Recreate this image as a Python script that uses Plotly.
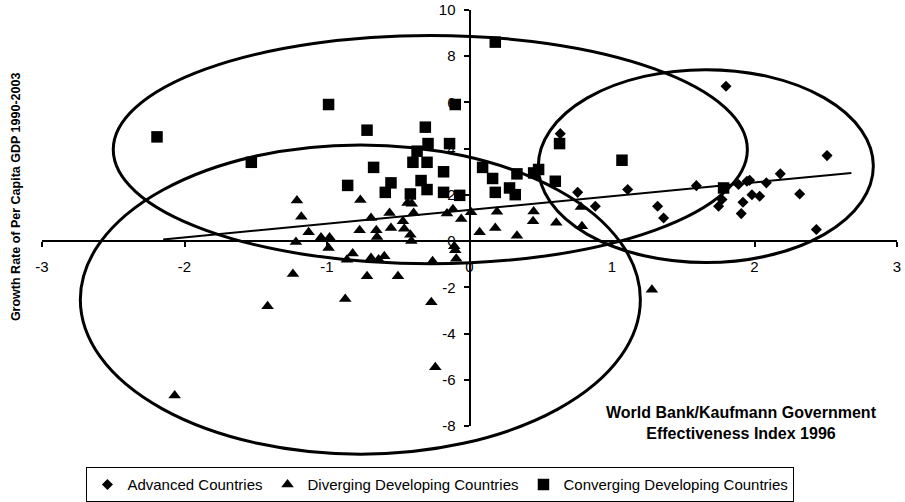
import plotly.graph_objects as go

# ---------------- data ----------------
adv_x = [0.637, 0.759, 0.883, 1.11, 1.32, 1.362, 1.592, 1.80, 1.748, 1.772, 1.888,
         1.907, 1.919, 1.947, 1.966, 1.982, 2.036, 2.083, 2.181, 2.317, 2.434, 2.509]
adv_y = [4.65, 2.11, 1.51, 2.23, 1.51, 1.00, 2.40, 6.70, 1.51, 1.80, 2.45,
         1.19, 1.68, 2.59, 2.63, 2.01, 1.94, 2.52, 2.91, 2.04, 0.50, 3.70]

div_x = [-2.069, -1.417, -1.239, -1.218, -1.211, -1.18, -1.129, -1.042, -0.982, -0.989,
         -0.872, -0.86, -0.82, -0.766, -0.771, -0.719, -0.691, -0.691, -0.654, -0.649,
         -0.638, -0.598, -0.561, -0.551, -0.502, -0.467, -0.458, -0.435, -0.405, -0.392,
         -0.415, -0.408, -0.259, -0.268, -0.24, -0.158, -0.116, -0.058, -0.107, -0.10,
         -0.093, 0.011, 0.071, 0.181, 0.193, 0.333, 0.45, 0.446, 0.609, 0.782, 0.789, 1.28]
div_y = [-6.68, -2.82, -1.42, -0.04, 1.76, 1.05, 0.38, 0.16, 0.16, -0.30,
         -2.51, -0.81, -0.54, 1.78, 0.47, -1.52, 1.00, -0.73, 0.47, 0.18,
         -0.80, -0.66, 1.22, 0.57, -1.52, 0.86, 0.53, 1.65, 1.62, 1.22,
         0.28, 0.00, -0.87, -2.65, -5.46, 1.19, 1.38, 0.96, -0.22, -0.40,
         -0.76, 1.25, 0.38, 0.57, 1.27, 0.23, 1.28, 0.86, 0.79, 1.48, 0.64, -2.10]

conv_x = [-2.193, -1.531, -0.989, -0.855, -0.719, -0.673, -0.591, -0.551, -0.415, -0.397,
          -0.368, -0.34, -0.31, -0.298, -0.298, -0.291, -0.182, -0.182, -0.14, -0.10,
          -0.069, 0.092, 0.162, 0.181, 0.181, 0.281, 0.321, 0.333, 0.45, 0.485,
          0.602, 0.632, 1.07, 1.783]
conv_y = [4.51, 3.41, 5.91, 2.41, 4.80, 3.19, 2.11, 2.52, 2.04, 3.41,
          3.89, 2.62, 4.93, 3.41, 2.23, 4.22, 3.00, 2.11, 4.22, 5.91,
          1.98, 3.19, 2.71, 8.61, 2.11, 2.30, 2.01, 2.91, 2.95, 3.10,
          2.59, 4.22, 3.50, 2.30]

trend_x = [-2.15, 2.68]
trend_y = [0.07, 2.95]

x_ticks = [-3, -2, -1, 0, 1, 2, 3]
y_ticks = [-8, -6, -4, -2, 0, 2, 4, 6, 8, 10]

# ellipses drawn around the three groups (data units: x0, x1, y0, y1)
ellipse_conv = (-2.50, 1.95, -0.98, 8.90)
ellipse_adv = (0.483, 2.834, -0.93, 7.42)
ellipse_div = (-2.731, 1.199, -9.22, 4.16)

X_RANGE = [-3, 3]
Y_RANGE = [-8, 10]

FONT = "Arial, Liberation Sans, sans-serif"

fig = go.Figure()

fig.add_trace(go.Scatter(x=adv_x, y=adv_y, mode="markers", name="Advanced Countries",
                         marker=dict(symbol="diamond", size=8.5, color="black")))
fig.add_trace(go.Scatter(x=div_x, y=div_y, mode="markers", name="Diverging Developing Countries",
                         marker=dict(symbol="triangle-up", size=11, color="black")))
fig.add_trace(go.Scatter(x=conv_x, y=conv_y, mode="markers", name="Converging Developing Countries",
                         marker=dict(symbol="square", size=11.5, color="black")))
fig.add_trace(go.Scatter(x=trend_x, y=trend_y, mode="lines", showlegend=False,
                         line=dict(color="black", width=2), hoverinfo="skip"))


def to_paper_x(v):
    return (v - X_RANGE[0]) / (X_RANGE[1] - X_RANGE[0])


def to_paper_y(v):
    return (v - Y_RANGE[0]) / (Y_RANGE[1] - Y_RANGE[0])


for e in (ellipse_conv, ellipse_adv, ellipse_div):
    fig.add_shape(type="circle", xref="paper", yref="paper",
                  x0=to_paper_x(e[0]), x1=to_paper_x(e[1]),
                  y0=to_paper_y(e[2]), y1=to_paper_y(e[3]),
                  line=dict(color="black", width=3), layer="above")

zero_y_pos = to_paper_y(0)
zero_x_pos = to_paper_x(0)

fig.update_layout(
    width=905, height=502,
    margin=dict(l=42, r=8, t=10, b=76, autoexpand=False),
    paper_bgcolor="white", plot_bgcolor="white",
    font=dict(family=FONT, color="black", size=15),
    showlegend=True,
    legend=dict(orientation="h", x=0.466, xanchor="center", y=-0.141, yanchor="middle",
                bordercolor="black", borderwidth=1, bgcolor="white",
                font=dict(family=FONT, size=15, color="black"),
                itemsizing="trace", itemwidth=30, tracegroupgap=0),
    xaxis=dict(range=X_RANGE, tickvals=x_ticks, ticktext=[str(v) for v in x_ticks],
               showgrid=False, zeroline=False, showline=True, linecolor="black", linewidth=2,
               ticks="outside", ticklen=5, tickwidth=1.5, tickcolor="black",
               anchor="free", position=zero_y_pos, layer="below traces",
               ticklabelstandoff=7, tickfont=dict(size=15)),
    yaxis=dict(range=Y_RANGE, tickvals=y_ticks, ticktext=[str(v) for v in y_ticks],
               showgrid=False, zeroline=False, showline=True, linecolor="black", linewidth=2,
               ticks="outside", ticklen=5, tickwidth=1.5, tickcolor="black",
               anchor="free", position=zero_x_pos, layer="below traces",
               ticklabelstandoff=5, tickfont=dict(size=15)),
    annotations=[
        dict(text="<b>Growth Rate of Per Capita GDP 1990-2003</b>", textangle=-90,
             xref="paper", yref="paper", x=-0.0312, y=0.551, xanchor="center", yanchor="middle",
             showarrow=False, font=dict(family=FONT, size=12.5, color="black")),
        dict(text="<b>World Bank/Kaufmann Government<br>Effectiveness Index 1996</b>",
             xref="paper", yref="paper", x=0.818, y=0.008, xanchor="center", yanchor="middle",
             showarrow=False, align="center", font=dict(family=FONT, size=16, color="black")),
    ],
)

fig.write_html("out.html")
